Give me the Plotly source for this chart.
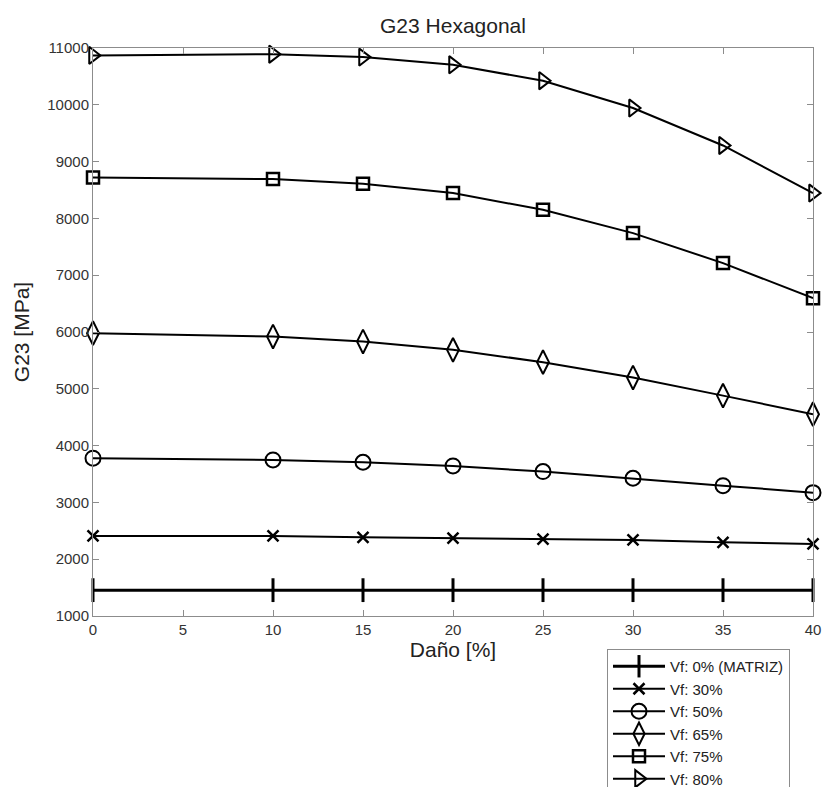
import plotly.graph_objects as go

dano = [0, 10, 15, 20, 25, 30, 35, 40]

vf0 = [1455, 1455, 1455, 1455, 1455, 1455, 1455, 1455]
vf30 = [2410, 2409, 2386, 2369, 2355, 2339, 2298, 2268]
vf50 = [3778, 3748, 3707, 3642, 3542, 3425, 3295, 3172]
vf65 = [5980, 5920, 5832, 5686, 5469, 5198, 4880, 4553]
vf75 = [8721, 8692, 8610, 8446, 8152, 7741, 7213, 6596]
vf80 = [10870, 10890, 10840, 10705, 10424, 9943, 9284, 8446]

names = ["Vf: 0% (MATRIZ)", "Vf: 30%", "Vf: 50%", "Vf: 65%", "Vf: 75%", "Vf: 80%"]
series = [vf0, vf30, vf50, vf65, vf75, vf80]
symbols = ["line-ns-open", "x-thin-open", "circle-open", "diamond-tall-open",
           "square-open", "triangle-right-open"]
sizes = [17, 11, 15, 17, 12, 15]
lwidths = [3, 2, 2, 2, 2, 2]
mwidths = [3, 2.5, 2, 2, 2.5, 2]

FONT = "Liberation Sans"

fig = go.Figure()
for i, (nm, ys) in enumerate(zip(names, series)):
    fig.add_trace(go.Scatter(
        x=dano, y=ys, name=nm, mode="lines+markers",
        legendgroup=f"g{i}",
        line=dict(color="black", width=lwidths[i]),
        marker=dict(symbol=symbols[i], size=sizes[i], color="black",
                    line=dict(color="black", width=mwidths[i])),
        cliponaxis=False,
    ))

axis_common = dict(
    showgrid=False, zeroline=False, showline=True, mirror="ticks",
    linecolor="#8c8c8c", linewidth=1, ticks="inside", ticklen=6,
    tickcolor="#8c8c8c", tickwidth=1,
    tickfont=dict(family=FONT, size=15, color="#333333"),
)

fig.update_xaxes(range=[0, 40], tickmode="array", tickvals=[0, 5, 10, 15, 20, 25, 30, 35, 40],
                 title=dict(text="Daño [%]", font=dict(family=FONT, size=21, color="#222222"),
                            standoff=4),
                 **axis_common)
fig.update_yaxes(range=[1000, 11000], tickmode="array", tickformat="d",
                 tickvals=[1000, 2000, 3000, 4000, 5000, 6000, 7000, 8000, 9000, 10000, 11000],
                 title=dict(text="G23 [MPa]", font=dict(family=FONT, size=21, color="#222222"),
                            standoff=11),
                 **axis_common)

fig.update_layout(
    width=822, height=787,
    margin=dict(l=93, r=9, t=48, b=171, autoexpand=False),
    paper_bgcolor="white", plot_bgcolor="white",
    title=dict(text="G23 Hexagonal", x=0.5, xref="paper", xanchor="center",
               y=1 - 26 / 787, yanchor="middle",
               font=dict(family=FONT, size=21, color="#222222")),
    font=dict(family=FONT),
    legend=dict(x=(607 - 93) / 720, y=(616 - 649) / 568, xanchor="left", yanchor="top",
                bgcolor="white", bordercolor="#8c8c8c", borderwidth=1,
                font=dict(family=FONT, size=15, color="#222222"),
                traceorder="grouped", tracegroupgap=0, itemwidth=52),
    showlegend=True,
)

fig.write_html("out.html", config={"displayModeBar": False},
               post_script="document.body.style.margin='0';document.body.style.overflow='hidden';")
